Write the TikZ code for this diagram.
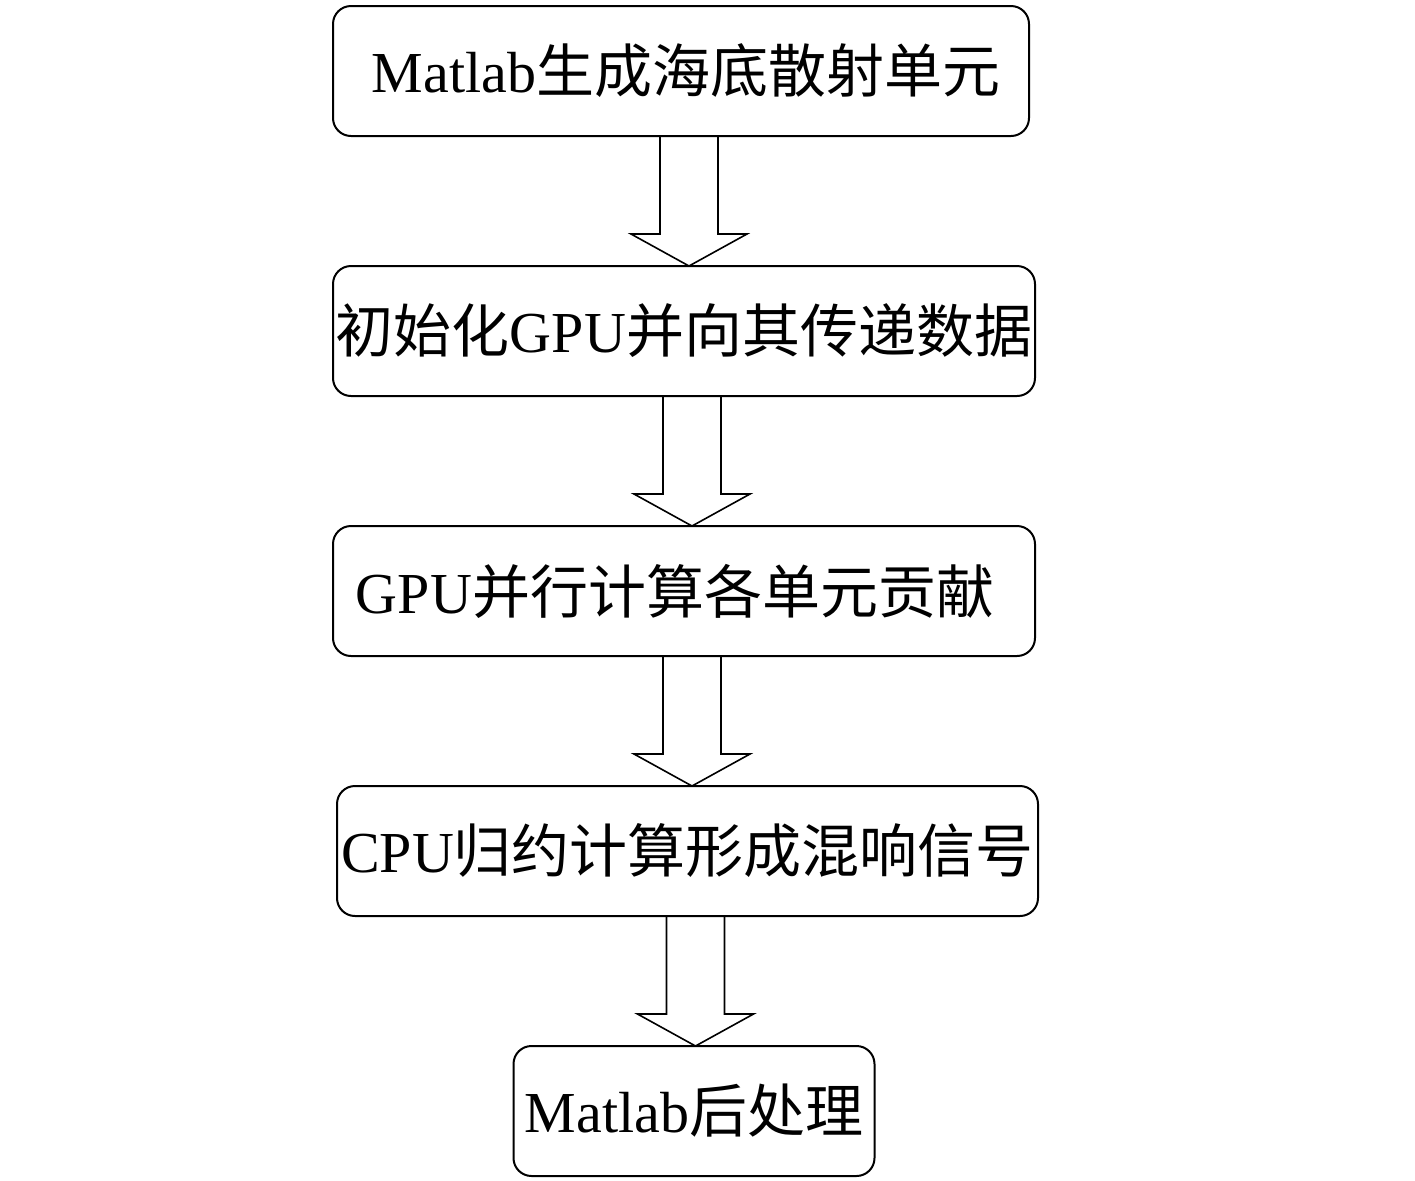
\documentclass[tikz,border=0pt]{standalone}
\usepackage{fontspec}
\setmainfont{Liberation Serif}
\newfontfamily\cjk{Noto Sans CJK SC}
\usetikzlibrary{positioning,calc}
\tikzstyle{stepbox} = [rectangle, rounded corners=9pt, draw=black, line width=1pt, minimum height=65pt, inner sep=0pt, outer sep=0pt, font=\fontsize{29}{33}\selectfont]
\tikzstyle{hollow} = [draw=black, line width=0.8pt, line join=miter]
\newcommand{\hollowarrow}[2]{%
  \draw [hollow] let \p1 = ($(#1.south)+(4pt,0)$), \p2 = (#2.north) in
    (\x1-14.5pt,\y1) -- (\x1-14.5pt,\y2+16pt) -- (\x1-29pt,\y2+16pt) -- (\x1,\y2)
    -- (\x1+29pt,\y2+16pt) -- (\x1+14.5pt,\y2+16pt) -- (\x1+14.5pt,\y1);}

\begin{document}
\begin{tikzpicture}
    \useasboundingbox (0,0) rectangle (707.5pt,-590pt);

    \node (gen) [stepbox, minimum width=348pt] at (340.5pt,-35.5pt) {\hspace{5pt}Matlab{\cjk 生成海底散射单元}};
    \node (init) [stepbox, minimum width=351pt, below=65pt of gen, xshift=1.5pt] {{\cjk 初始化}GPU{\cjk 并向其传递数据}};
    \node (calc) [stepbox, minimum width=351pt, below=65pt of init] {\hspace{-9pt}GPU{\cjk 并行计算各单元贡献}};
    \node (sum) [stepbox, minimum width=350.5pt, below=65pt of calc, xshift=1.75pt] {CPU{\cjk 归约计算形成混响信号}};
    \node (post) [stepbox, minimum width=180.5pt, below=65pt of sum, xshift=3.25pt] {Matlab{\cjk 后处理}};

    \hollowarrow{gen}{init}
    \hollowarrow{init}{calc}
    \hollowarrow{calc}{sum}
    \hollowarrow{sum}{post}
\end{tikzpicture}
\end{document}
